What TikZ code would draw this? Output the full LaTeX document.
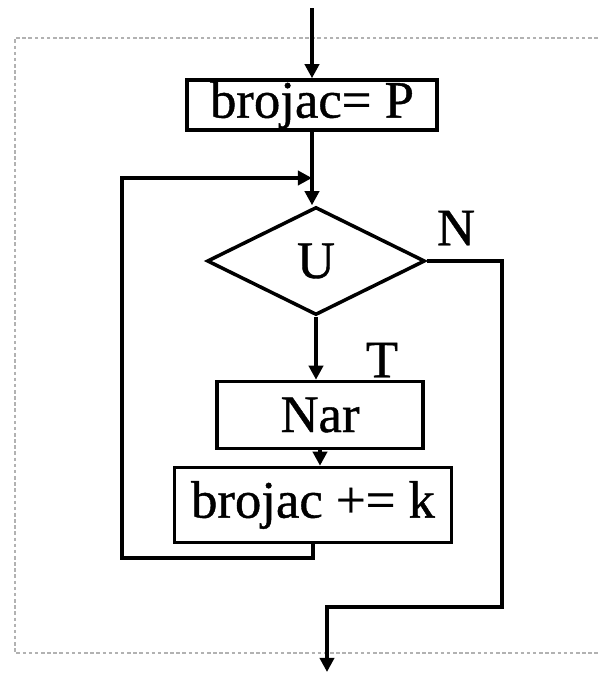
\documentclass[tikz,border=0pt]{standalone}
\usepackage{fontspec}
\setmainfont{Liberation Serif}[BoldFont=Liberation Serif,BoldFeatures={FakeBold=0.8}]
\usepackage{tikz}
\usetikzlibrary{arrows.meta,shapes.geometric}

\begin{document}
\begin{tikzpicture}[x=0.02cm,y=-0.02cm,>={Triangle[length=8pt,width=8pt]},
  every node/.style={font=\fontsize{30}{34}\selectfont\bfseries},
  blok/.style={draw,line width=2pt,inner sep=0pt},
  uslov/.style={draw,diamond,line width=2pt,inner sep=0pt,minimum width=4.36cm,minimum height=2.16cm},
  veza/.style={line width=2.2pt},
  okvir/.style={draw=gray!60,line width=1.4pt,dash pattern=on 2pt off 1.5pt}]
\useasboundingbox (0,0) rectangle (598,674);
\draw[okvir] (610,38) -- (15,38) -- (15,653) -- (610,653);
\node[blok,minimum width=5cm,minimum height=1cm] (init) at (312,105) {brojac= P};
\node[uslov] (cond) at (316,261) {U};
\node[blok,minimum width=4.12cm,minimum height=1.34cm] (nar) at (320,415) {Nar};
\node[blok,minimum width=5.54cm,minimum height=1.5cm] (inc) at (313,505) {brojac += k};
\node (lN) at (456,228) {N};
\node (lT) at (382,360) {T};
\coordinate (ulaz) at (312,8);
\coordinate (lb) at (122,558);
\coordinate (lt) at (122,178);
\coordinate (nr) at (502,607);
\coordinate (izlaz) at (327,672);
\draw[veza,->] (ulaz) -- (init);
\draw[veza,->] (init.south) -- (init.south |- cond.north);
\draw[veza,->] (cond.south) -- (cond.south |- nar.north);
\draw[veza,->] (nar.south) -- (nar.south |- inc.north);
\draw[veza,->] (inc.south) |- (lb) -- (lt) -- (init.south |- lt);
\draw[veza,->] (cond.east) -| (nr) -| (izlaz);
\end{tikzpicture}
\end{document}
